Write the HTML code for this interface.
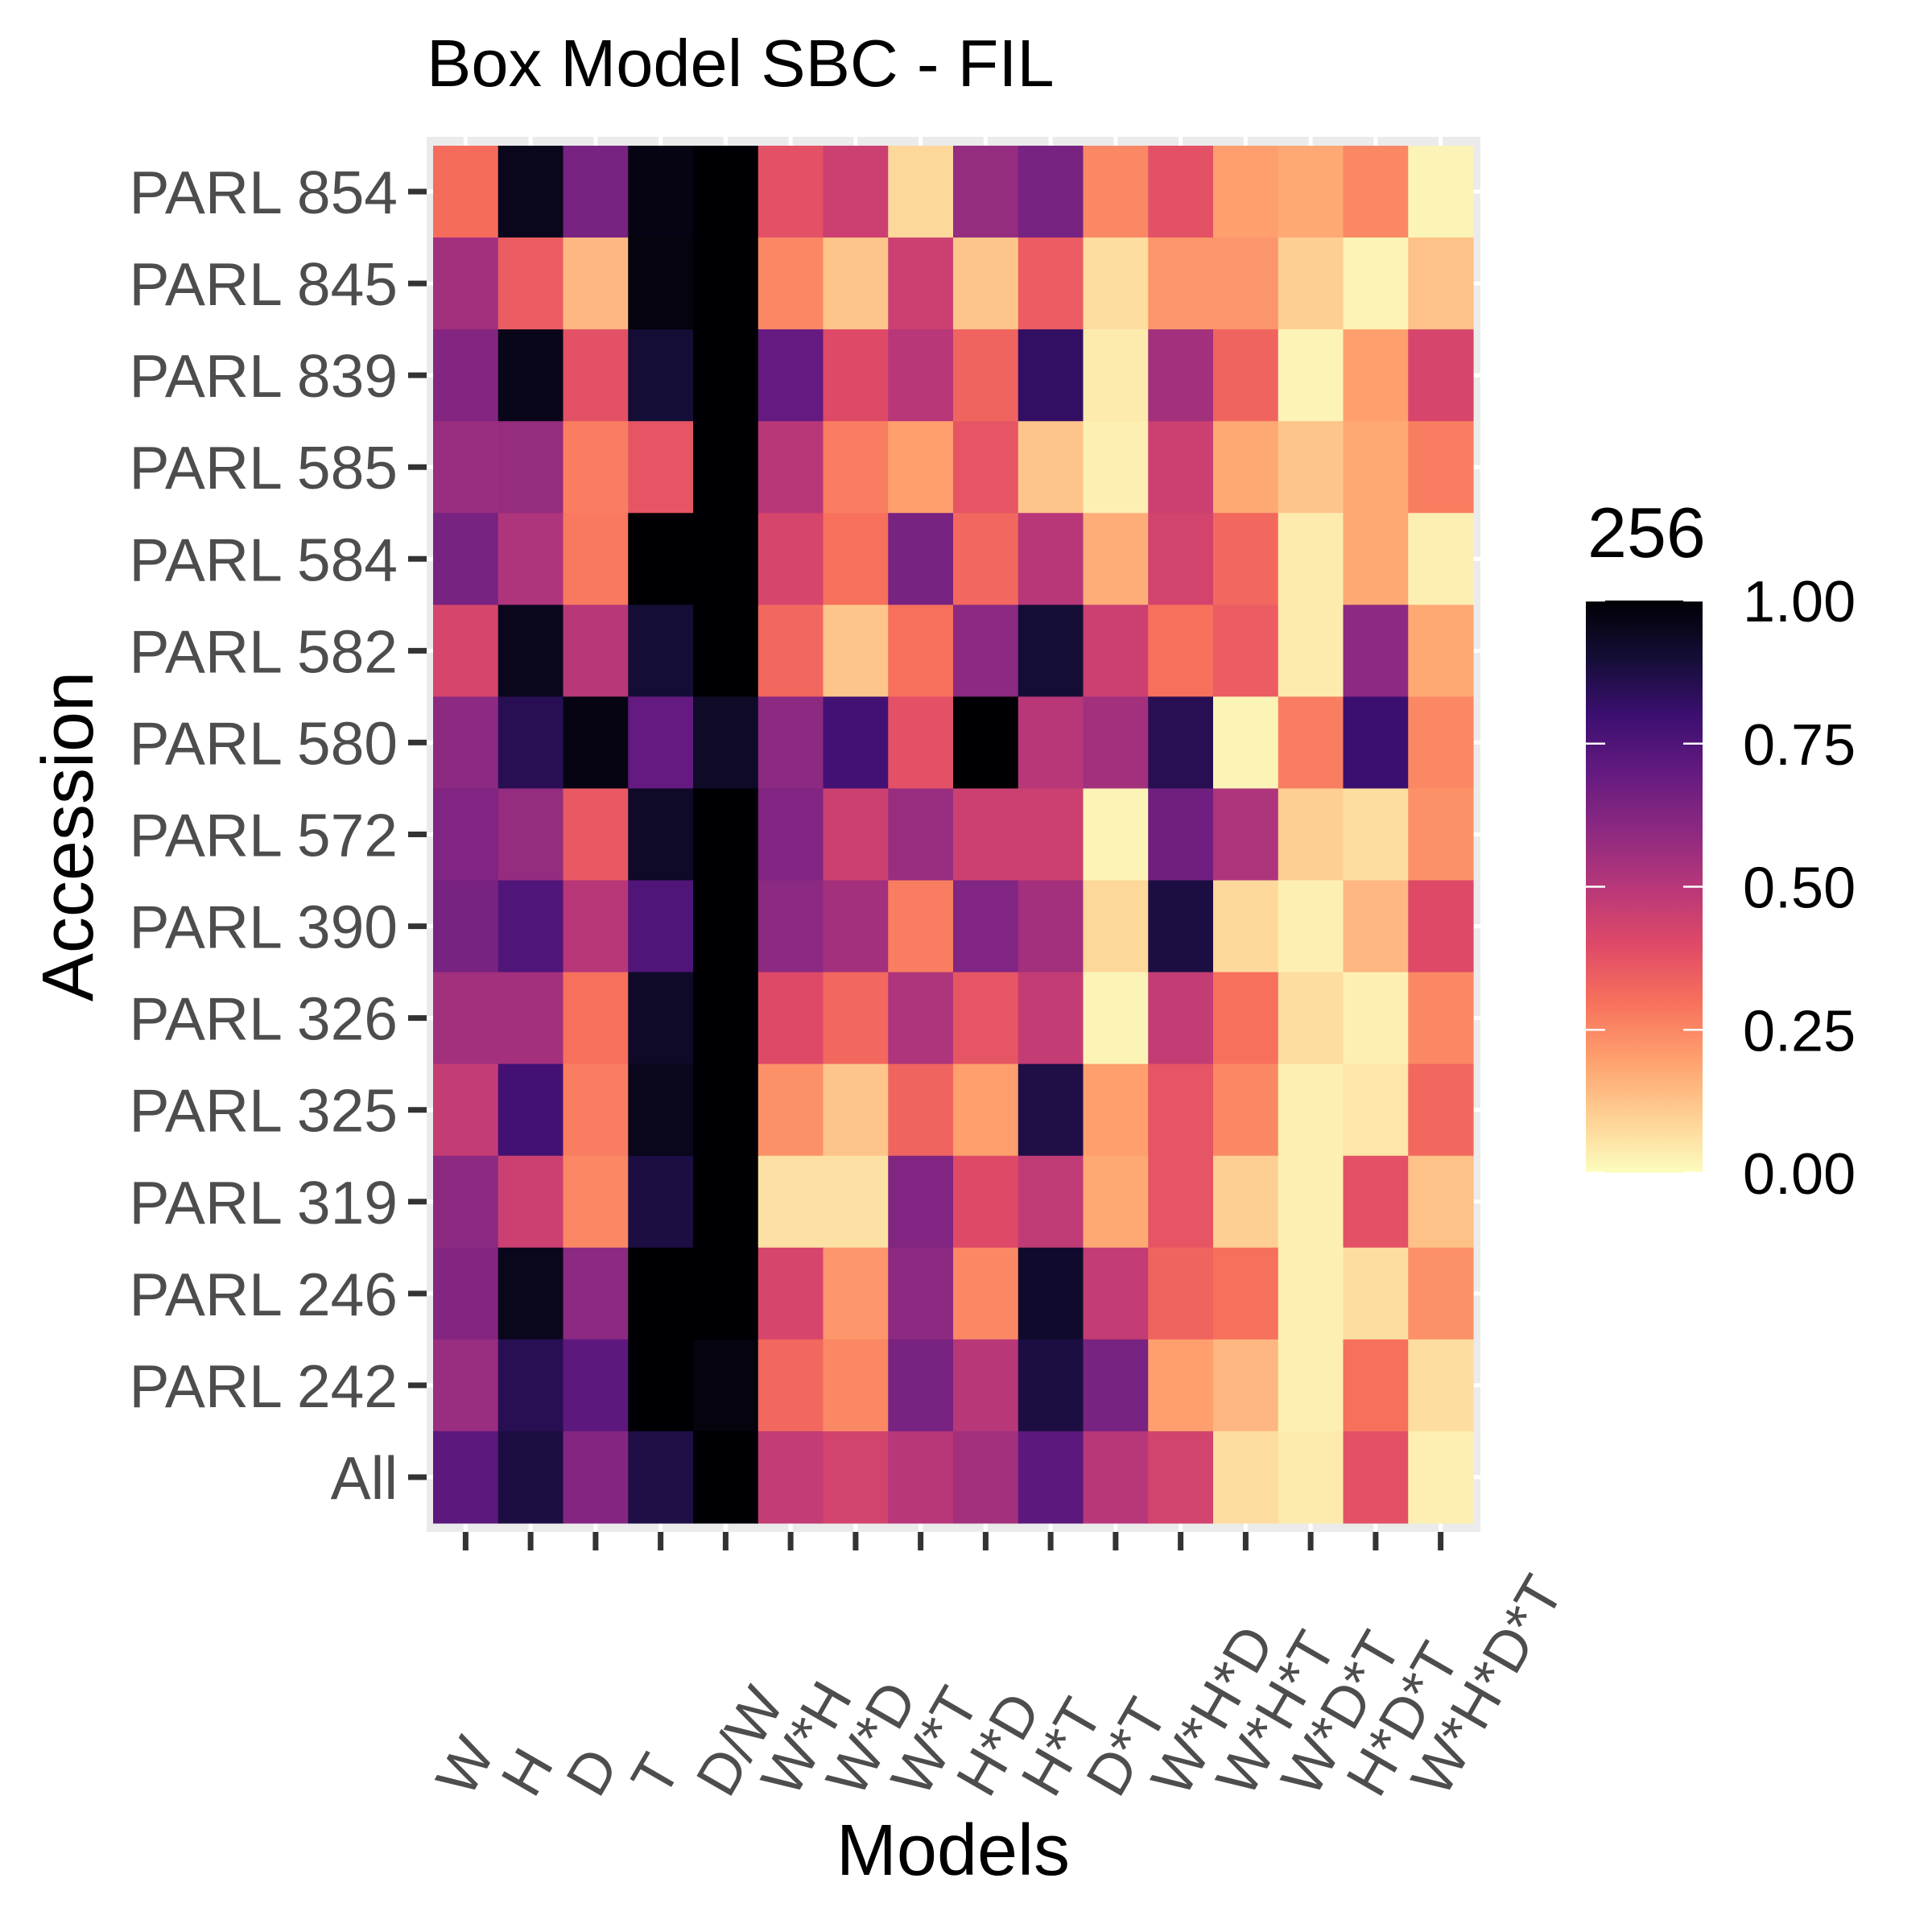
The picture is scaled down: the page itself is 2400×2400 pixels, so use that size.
<!DOCTYPE html>
<html><head><meta charset="utf-8"><style>
html,body{margin:0;padding:0;background:#fff}
svg{display:block;font-family:"Liberation Sans",Arial,sans-serif}
</style></head><body>
<svg id="chart" width="2400" height="2400" viewBox="0 0 2400 2400" xmlns="http://www.w3.org/2000/svg">
<defs>
<linearGradient id="cbar" x1="0" y1="1" x2="0" y2="0">
<stop offset="0" stop-color="#fcfdbf"/><stop offset="0.1" stop-color="#fecf92"/><stop offset="0.2" stop-color="#fe9f6d"/><stop offset="0.3" stop-color="#f7705c"/><stop offset="0.4" stop-color="#de4968"/><stop offset="0.5" stop-color="#b73779"/><stop offset="0.6" stop-color="#8c2981"/><stop offset="0.7" stop-color="#641a80"/><stop offset="0.8" stop-color="#3b0f70"/><stop offset="0.9" stop-color="#140e36"/><stop offset="1" stop-color="#000004"/>
</linearGradient>
</defs>
<text x="530" y="107" font-size="83" fill="#000">Box Model SBC - FIL</text>
<rect x="530" y="170" width="1309" height="1733" fill="#ebebeb"/>
<g id="grid"></g>
<g id="cells"></g>
<g id="yaxis"></g>
<g id="xaxis"></g>
<text transform="translate(115,1039) rotate(-90)" text-anchor="middle" font-size="90" fill="#000">Accession</text>
<text x="1184" y="2329" text-anchor="middle" font-size="90" fill="#000">Models</text>
<g>
<text x="1972" y="692" font-size="88" fill="#000">256</text>
<rect x="1970" y="746" width="145" height="711" fill="url(#cbar)"/>
<g id="legticks"></g>
</g>
</svg>
<script>
const rows = ["PARL 854","PARL 845","PARL 839","PARL 585","PARL 584","PARL 582","PARL 580","PARL 572","PARL 390","PARL 326","PARL 325","PARL 319","PARL 246","PARL 242","All"];
const cols = ["W","H","D","T","D/W","W*H","W*D","W*T","H*D","H*T","D*T","W*H*D","W*H*T","W*D*T","H*D*T","W*H*D*T"];
const r854=[0.31,0.95,0.65,0.97,1.0,0.38,0.45,0.08,0.58,0.65,0.25,0.38,0.2,0.18,0.25,0.02];
const r845=[0.55,0.35,0.15,0.98,1.0,0.25,0.12,0.45,0.12,0.35,0.07,0.22,0.22,0.1,0.02,0.13];
const r839=[0.62,0.96,0.38,0.9,1.0,0.7,0.4,0.5,0.33,0.82,0.04,0.55,0.33,0.02,0.2,0.42];
const r585=[0.57,0.58,0.27,0.37,1.0,0.5,0.27,0.2,0.37,0.12,0.03,0.45,0.18,0.12,0.18,0.27];
const r584=[0.65,0.52,0.28,1.0,1.0,0.42,0.3,0.65,0.32,0.5,0.17,0.43,0.32,0.04,0.18,0.03];
const r582=[0.42,0.95,0.5,0.9,1.0,0.32,0.12,0.3,0.6,0.9,0.45,0.3,0.35,0.04,0.6,0.18];
const r580=[0.6,0.85,0.97,0.7,0.93,0.6,0.78,0.38,1.0,0.5,0.55,0.85,0.02,0.27,0.8,0.25];
const r572=[0.63,0.58,0.36,0.93,1.0,0.63,0.45,0.57,0.45,0.45,0.02,0.67,0.52,0.1,0.07,0.23];
const r390=[0.65,0.75,0.5,0.75,1.0,0.6,0.55,0.27,0.63,0.55,0.08,0.88,0.08,0.03,0.15,0.4];
const r326=[0.55,0.55,0.3,0.93,1.0,0.4,0.32,0.52,0.37,0.47,0.02,0.47,0.3,0.07,0.03,0.25];
const r325=[0.47,0.78,0.27,0.95,1.0,0.23,0.12,0.33,0.2,0.87,0.2,0.37,0.25,0.03,0.05,0.32];
const r319=[0.6,0.45,0.25,0.88,1.0,0.06,0.06,0.63,0.4,0.48,0.18,0.37,0.1,0.03,0.38,0.13];
const r246=[0.62,0.95,0.6,1.0,1.0,0.42,0.22,0.6,0.25,0.92,0.47,0.33,0.3,0.03,0.07,0.23];
const r242=[0.57,0.85,0.72,1.0,0.98,0.32,0.25,0.65,0.5,0.88,0.65,0.2,0.15,0.03,0.3,0.07];
const rAll=[0.72,0.88,0.62,0.87,1.0,0.47,0.43,0.5,0.55,0.72,0.5,0.43,0.07,0.04,0.38,0.03];
const values=[r854,r845,r839,r585,r584,r582,r580,r572,r390,r326,r325,r319,r246,r242,rAll];
const legendTicks=[0,0.25,0.5,0.75,1];
const legendLabels=["0.00","0.25","0.50","0.75","1.00"];

const NS="http://www.w3.org/2000/svg";
const X0=538,X1=1830,Y0=181,Y1=1892;
const cw=(X1-X0)/cols.length, ch=(Y1-Y0)/rows.length;
const xc=i=>X0+cw*(i+0.5), yc=j=>Y0+ch*(j+0.5);
const LB0=1457,LB1=746; const ly=v=>LB0+(LB1-LB0)*v;
const mag=[[252,253,191],[254,207,146],[254,159,109],[247,112,92],[222,73,104],[183,55,121],[140,41,129],[100,26,128],[59,15,112],[20,14,54],[0,0,4]];
function color(v){v=Math.max(0,Math.min(1,v));const t=v*10,i=Math.min(9,Math.floor(t)),f=t-i;const a=mag[i],b=mag[i+1];return "rgb("+a.map((c,k)=>Math.round(c+(b[k]-c)*f)).join(",")+")";}
function mk(tag,attrs,parent){const e=document.createElementNS(NS,tag);for(const k in attrs)e.setAttribute(k,attrs[k]);parent.appendChild(e);return e;}
const grid=document.getElementById('grid'),cells=document.getElementById('cells'),ya=document.getElementById('yaxis'),xa=document.getElementById('xaxis'),lt=document.getElementById('legticks');
cols.forEach((c,i)=>{const l=mk('line',{x1:xc(i),x2:xc(i),y1:170,y2:1903,stroke:'#fff','stroke-width':5},grid);

});
rows.forEach((r,j)=>{const l=mk('line',{x1:530,x2:1839,y1:yc(j),y2:yc(j),stroke:'#fff','stroke-width':5},grid);

});
values.forEach((row,j)=>row.forEach((v,i)=>{const r=mk('rect',{x:X0+cw*i,y:Y0+ch*j,width:cw+0.6,height:ch+0.6,fill:color(v)},cells);

}));
rows.forEach((r,j)=>{const t=mk('line',{x1:507,x2:530,y1:yc(j),y2:yc(j),stroke:'#333','stroke-width':7},ya);


const tx=mk('text',{x:494,y:yc(j)+27,'text-anchor':'end','font-size':75,fill:'#4d4d4d'},ya);tx.textContent=r;

});
cols.forEach((c,i)=>{const t=mk('line',{x1:xc(i),x2:xc(i),y1:1903,y2:1926,stroke:'#333','stroke-width':7},xa);


const tx=mk('text',{transform:'translate('+(xc(i)+4)+',2236) rotate(-60)','font-size':72,fill:'#4d4d4d'},xa);tx.textContent=c;

});
legendTicks.forEach((v,k)=>{const y=ly(v);
const a=mk('line',{x1:1970,x2:1994,y1:y,y2:y,stroke:'#fff','stroke-width':2.5},lt);


const b=mk('line',{x1:2091,x2:2115,y1:y,y2:y,stroke:'#fff','stroke-width':2.5},lt);


const tx=mk('text',{x:2165,y:y+26,'font-size':72,fill:'#000'},lt);tx.textContent=legendLabels[k];

});
</script>
</body></html>
